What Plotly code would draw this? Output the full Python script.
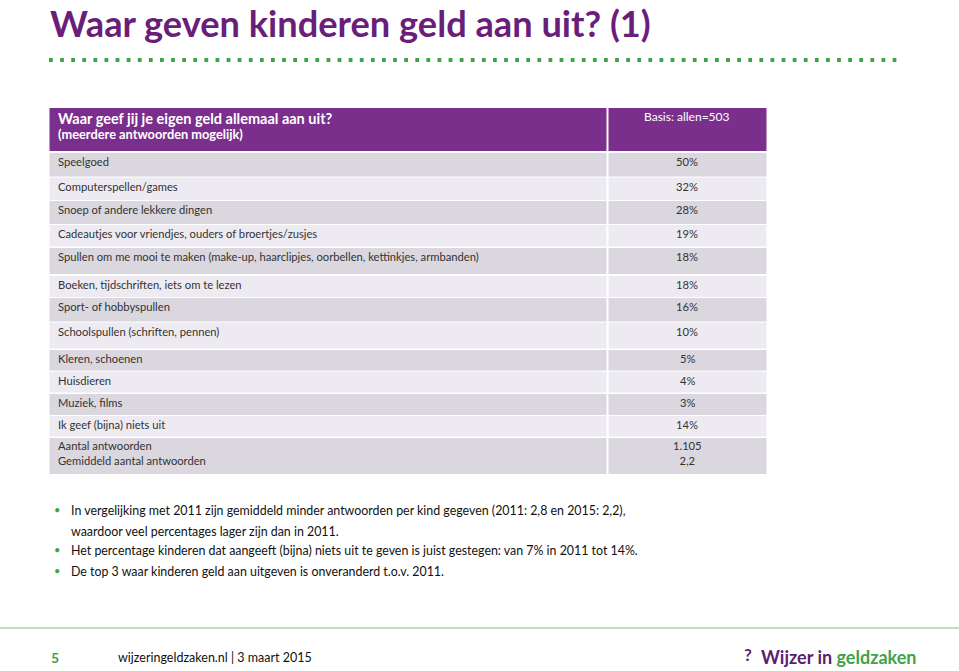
import plotly.graph_objects as go

# ---------------- data ----------------
title = "Waar geven kinderen geld aan uit? (1)"
question = "Waar geef jij je eigen geld allemaal aan uit?"
question_sub = "(meerdere antwoorden mogelijk)"
basis = "Basis: allen=503"
categories = [
    "Speelgoed",
    "Computerspellen/games",
    "Snoep of andere lekkere dingen",
    "Cadeautjes voor vriendjes, ouders of broertjes/zusjes",
    "Spullen om me mooi te maken (make-up, haarclipjes, oorbellen, kettinkjes, armbanden)",
    "Boeken, tijdschriften, iets om te lezen",
    "Sport- of hobbyspullen",
    "Schoolspullen (schriften, pennen)",
    "Kleren, schoenen",
    "Huisdieren",
    "Muziek, films",
    "Ik geef (bijna) niets uit",
]
percentages = [50, 32, 28, 19, 18, 18, 16, 10, 5, 4, 3, 14]
summary_labels = ["Aantal antwoorden", "Gemiddeld aantal antwoorden"]
summary_values = ["1.105", "2,2"]
bullet_lines = [
    ["In vergelijking met 2011 zijn gemiddeld minder antwoorden per kind gegeven (2011: 2,8 en 2015: 2,2),",
     "waardoor veel percentages lager zijn dan in 2011."],
    ["Het percentage kinderen dat aangeeft (bijna) niets uit te geven is juist gestegen: van 7% in 2011 tot 14%."],
    ["De top 3 waar kinderen geld aan uitgeven is onveranderd t.o.v. 2011."],
]
page_number = "5"
footer_text = "wijzeringeldzaken.nl | 3 maart 2015"

# ---------------- layout geometry ----------------
W, H = 959, 671
FONT = "Lato"
PURPLE_T = "#6A1E79"
PURPLE_H = "#7B2F8C"
GREEN = "#3FA34A"
DARK = "#DAD7DF"
LIGHT = "#EDEBF1"
TXT = "#333333"

x_left, x_div, x_right = 49.5, 607.5, 766.5
header_top, header_bot = 108, 151
row_tops = [153, 177.5, 201, 225, 248, 276, 298, 322.5, 350, 371.5, 394, 416, 438]
row_bots = [176.5, 200, 224, 246.5, 274, 297, 321.5, 348.5, 370.5, 392.5, 415, 436.5, 474]

shapes = []
annotations = []

def rect(x0, y0, x1, y1, color):
    shapes.append(dict(type="rect", xref="x", yref="y", x0=x0, x1=x1, y0=y0, y1=y1,
                       fillcolor=color, line=dict(width=0), layer="below"))

def text(x, y, s, size, color=TXT, bold=False, xanchor="left", yanchor="middle", family=FONT, align="left"):
    if bold:
        s = "<b>" + s + "</b>"
    annotations.append(dict(x=x, y=y, xref="x", yref="y", text=s, showarrow=False,
                            xanchor=xanchor, yanchor=yanchor, align=align,
                            font=dict(family=family, size=size, color=color)))

# title
text(48, 22.5, title, 36.2, PURPLE_T, bold=True)
# dotted line
shapes.append(dict(type="line", xref="x", yref="y", x0=49, x1=902, y0=60, y1=60,
                   line=dict(color=GREEN, width=3.8, dash="3.8px,7.3px")))

# header
rect(x_left, header_top, x_div - 1, header_bot, PURPLE_H)
rect(x_div + 1, header_top, x_right, header_bot, PURPLE_H)
text(56, 118, question, 14.5, "white", bold=True)
text(56, 134, question_sub, 12.8, "white", bold=True)
text((x_div + x_right) / 2, 116, basis, 12, "white", xanchor="center")

# body rows
for i in range(len(row_tops)):
    col = DARK if i % 2 == 0 else LIGHT
    t, b = row_tops[i], row_bots[i]
    rect(x_left, t, x_div - 1, b, col)
    rect(x_div + 1, t, x_right, b, col)
vx = (x_div + x_right) / 2
for i, (lab, p) in enumerate(zip(categories, percentages)):
    t = row_tops[i]
    text(56, t + 8.5, lab, 11.2)
    text(vx, t + 8.5, f"{p}%", 11.2, xanchor="center")
t = row_tops[len(categories)]
text(56, t + 15, "<br>".join(summary_labels), 11.2, align="left")
text(vx, t + 15, "<br>".join(summary_values), 11.2, xanchor="center", align="center")

# bullets
bullet_y = [510, 550, 571]
for lines, y in zip(bullet_lines, bullet_y):
    text(52, y - 1, "•", 11, GREEN)
    for k, ln in enumerate(lines):
        text(69, y + 21 * k, ln, 12.4, "#111111")

# footer
shapes.append(dict(type="line", xref="x", yref="y", x0=0, x1=W, y0=628, y1=628,
                   line=dict(color="#A9D3A4", width=1.5)))
text(49, 657, page_number, 14, GREEN, bold=True)
text(116, 657, footer_text, 12.5, "#111111")
text(742, 654, "?", 17, "#5B1F6E", bold=True)
text(759, 657, "Wijzer in <span style='color:%s'>geldzaken</span>" % GREEN, 18, "#5B1F6E", bold=True)

fig = go.Figure()
fig.update_layout(
    width=W, height=H,
    margin=dict(l=0, r=0, t=0, b=0),
    paper_bgcolor="white", plot_bgcolor="white",
    xaxis=dict(range=[0, W], visible=False, fixedrange=True),
    yaxis=dict(range=[H, 0], visible=False, fixedrange=True),
    shapes=shapes, annotations=annotations, showlegend=False,
)
fig.write_html("out.html", config={"displayModeBar": False},
               post_script="document.body.style.margin='0';document.body.style.overflow='hidden';")
